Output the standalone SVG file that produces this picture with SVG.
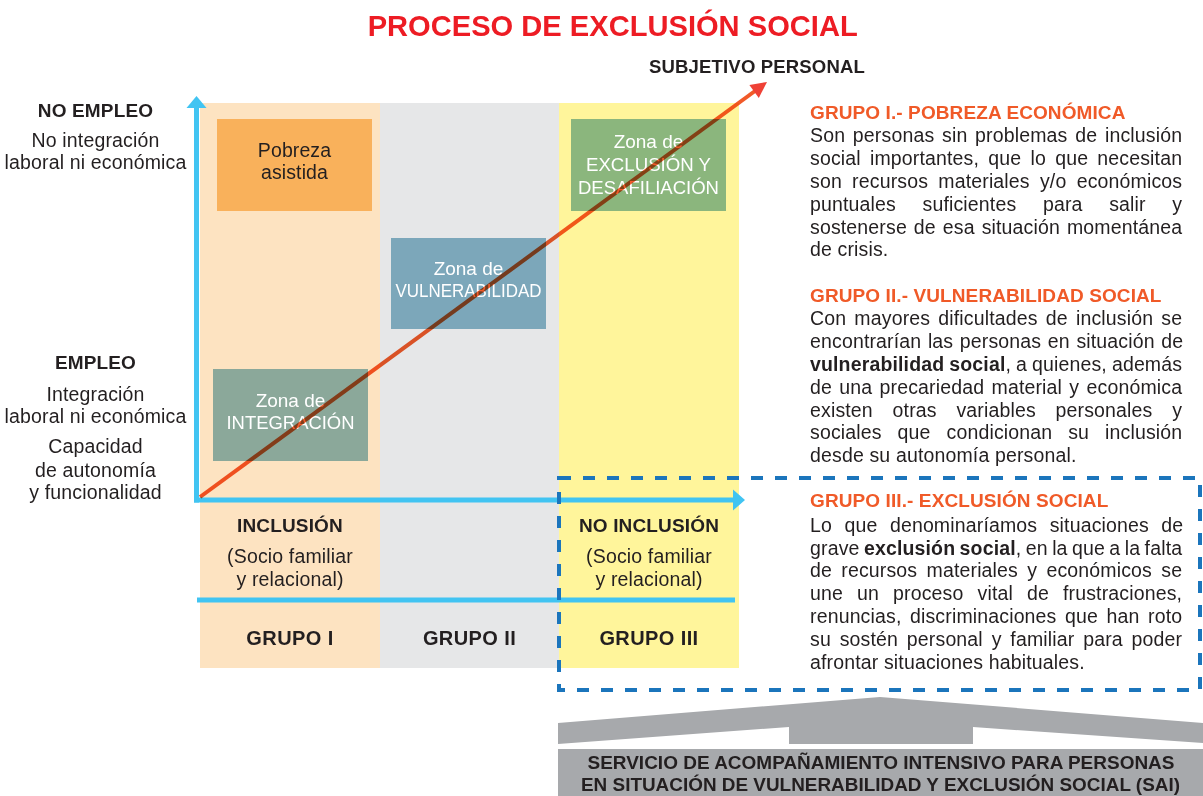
<svg xmlns="http://www.w3.org/2000/svg" width="1203" height="796" viewBox="0 0 1203 796">
<style>
text{font-family:"Liberation Sans",Arial,Helvetica,sans-serif;fill:#231F20}
.title{font-size:30px;font-weight:bold;fill:#ED1C24}
.lbl{font-size:19.5px;letter-spacing:0.15px;text-anchor:middle}
.lblb{font-size:19px;font-weight:bold;letter-spacing:0.15px;text-anchor:middle}
.grp{font-size:20px;font-weight:bold;letter-spacing:0.4px;text-anchor:middle}
.box{font-size:19px;text-anchor:middle;fill:#FFFFFF}
.boxd{font-size:19.5px;letter-spacing:0.1px;text-anchor:middle;fill:#231F20}
.hd{font-size:19px;font-weight:bold;letter-spacing:0.1px;fill:#F05A28}
.body{font-size:19.5px;letter-spacing:0.15px}
.band{font-size:19px;font-weight:bold;text-anchor:middle}
.axis{stroke:#41C4F2;stroke-width:5;fill:none}
.axhead{fill:#41C4F2}
</style>

<text class="title" x="612.7" y="35.5" text-anchor="middle" textLength="490" lengthAdjust="spacingAndGlyphs">PROCESO DE EXCLUSIÓN SOCIAL</text>

<g id="columns">
<rect x="200" y="103" width="180" height="565" fill="#FDE3C1"/>
<rect x="380" y="103" width="179" height="565" fill="#E6E7E8"/>
<rect x="559" y="103" width="180" height="565" fill="#FFF59B"/>
</g>

<g id="node-pobreza">
<rect x="217" y="119" width="155" height="92" fill="#F9B15B"/>
<text class="boxd" x="294.5" y="156.7">Pobreza</text>
<text class="boxd" x="294.5" y="179.3">asistida</text>
</g>
<g id="node-integracion">
<rect x="213" y="369" width="155" height="92" fill="#8BA89A"/>
<text class="box" x="290.5" y="406.7">Zona de</text>
<text class="box" x="290.5" y="429.3" textLength="128" lengthAdjust="spacingAndGlyphs">INTEGRACIÓN</text>
</g>
<g id="node-vulnerabilidad">
<rect x="391" y="238" width="155" height="91" fill="#7CA7BA"/>
<text class="box" x="468.5" y="275">Zona de</text>
<text class="box" x="468.5" y="297.3" textLength="146" lengthAdjust="spacingAndGlyphs">VULNERABILIDAD</text>
</g>
<g id="node-exclusion">
<rect x="571" y="119" width="155" height="92" fill="#8BB67D"/>
<text class="box" x="648.5" y="148.3">Zona de</text>
<text class="box" x="648.5" y="171" textLength="125" lengthAdjust="spacingAndGlyphs">EXCLUSIÓN Y</text>
<text class="box" x="648.5" y="194" textLength="141" lengthAdjust="spacingAndGlyphs">DESAFILIACIÓN</text>
</g>

<g id="connectors">
<line class="axis" x1="196.5" y1="106" x2="196.5" y2="502.5"/>
<polygon class="axhead" points="186.5,108 196.5,96 206.5,108"/>
<line class="axis" x1="194" y1="500" x2="734" y2="500"/>
<polygon class="axhead" points="733,489.5 745,500 733,510.5"/>
<line class="axis" x1="197" y1="600" x2="735" y2="600"/>
<line x1="200" y1="497" x2="755" y2="91" stroke="#F15A29" stroke-width="4" style="mix-blend-mode:multiply"/>
<polygon points="767,82 758.8,98 749.4,85" fill="#EF4136"/>
</g>

<text class="lblb" x="757" y="73" textLength="216" lengthAdjust="spacingAndGlyphs" letter-spacing="0">SUBJETIVO PERSONAL</text>

<g id="y-labels">
<text class="lblb" x="95.5" y="116.7">NO EMPLEO</text>
<text class="lbl" x="95.5" y="146.7">No integración</text>
<text class="lbl" x="95.5" y="169.3">laboral ni económica</text>
<text class="lblb" x="95.5" y="369.3">EMPLEO</text>
<text class="lbl" x="95.5" y="400.7">Integración</text>
<text class="lbl" x="95.5" y="423.3">laboral ni económica</text>
<text class="lbl" x="95.5" y="453.3">Capacidad</text>
<text class="lbl" x="95.5" y="476.7">de autonomía</text>
<text class="lbl" x="95.5" y="499.3">y funcionalidad</text>
</g>

<g id="x-labels">
<text class="lblb" x="290" y="531.7">INCLUSIÓN</text>
<text class="lbl" x="290" y="563">(Socio familiar</text>
<text class="lbl" x="290" y="586">y relacional)</text>
<text class="lblb" x="649" y="531.7">NO INCLUSIÓN</text>
<text class="lbl" x="649" y="563">(Socio familiar</text>
<text class="lbl" x="649" y="586">y relacional)</text>
<text class="grp" x="290" y="645">GRUPO I</text>
<text class="grp" x="469.5" y="645">GRUPO II</text>
<text class="grp" x="649" y="645">GRUPO III</text>
</g>

<g id="group-descriptions">
<text class="hd" x="810" y="119.3">GRUPO I.- POBREZA ECONÓMICA</text>
<text class="body" x="810" y="142.3" style="word-spacing:2.15px">Son personas sin problemas de inclusión</text>
<text class="body" x="810" y="165.1" style="word-spacing:3.64px">social importantes, que lo que necesitan</text>
<text class="body" x="810" y="187.9" style="word-spacing:4.65px">son recursos materiales y/o económicos</text>
<text class="body" x="810" y="210.7" style="word-spacing:21.04px">puntuales suficientes para salir y</text>
<text class="body" x="810" y="233.5" style="word-spacing:1.39px">sostenerse de esa situación momentánea</text>
<text class="body" x="810" y="256.3">de crisis.</text>

<text class="hd" x="810" y="301.7">GRUPO II.- VULNERABILIDAD SOCIAL</text>
<text class="body" x="810" y="325.3" style="word-spacing:2.57px">Con mayores dificultades de inclusión se</text>
<text class="body" x="810" y="348.1" style="word-spacing:1.02px">encontrarían las personas en situación de</text>
<text class="body" x="810" y="370.9" style="word-spacing:-0.59px"><tspan font-weight="bold">vulnerabilidad social</tspan>, a quienes, además</text>
<text class="body" x="810" y="393.7" style="word-spacing:1.73px">de una precariedad material y económica</text>
<text class="body" x="810" y="416.5" style="word-spacing:14.16px">existen otras variables personales y</text>
<text class="body" x="810" y="439.3" style="word-spacing:10.38px">sociales que condicionan su inclusión</text>
<text class="body" x="810" y="462.1">desde su autonomía personal.</text>

<text class="hd" x="810" y="507.3">GRUPO III.- EXCLUSIÓN SOCIAL</text>
<text class="body" x="810" y="531.7" style="word-spacing:6.89px">Lo que denominaríamos situaciones de</text>
<text class="body" x="810" y="554.5" style="word-spacing:-1.18px">grave <tspan font-weight="bold">exclusión social</tspan>, en la que a la falta</text>
<text class="body" x="810" y="577.3" style="word-spacing:3.72px">de recursos materiales y económicos se</text>
<text class="body" x="810" y="600.1" style="word-spacing:8.47px">une un proceso vital de frustraciones,</text>
<text class="body" x="810" y="622.9" style="word-spacing:2.94px">renuncias, discriminaciones que han roto</text>
<text class="body" x="810" y="645.7" style="word-spacing:3.23px">su sostén personal y familiar para poder</text>
<text class="body" x="810" y="668.5">afrontar situaciones habituales.</text>
</g>

<g id="group3-frame">
<rect x="559" y="478" width="641" height="212" fill="none" stroke="#1B75BC" stroke-width="4" stroke-dasharray="12 12"/>
</g>

<g id="node-sai">
<polygon points="558,723 880,697 1203,723 1203,743 973,727 973,744 789,744 789,727 558,744" fill="#A7A9AC"/>
<rect x="558" y="749" width="645" height="47" fill="#A7A9AC"/>
<text class="band" x="881" y="769" textLength="587" lengthAdjust="spacingAndGlyphs">SERVICIO DE ACOMPAÑAMIENTO INTENSIVO PARA PERSONAS</text>
<text class="band" x="880.5" y="790.7" textLength="599" lengthAdjust="spacingAndGlyphs">EN SITUACIÓN DE VULNERABILIDAD Y EXCLUSIÓN SOCIAL (SAI)</text>
</g>
</svg>
